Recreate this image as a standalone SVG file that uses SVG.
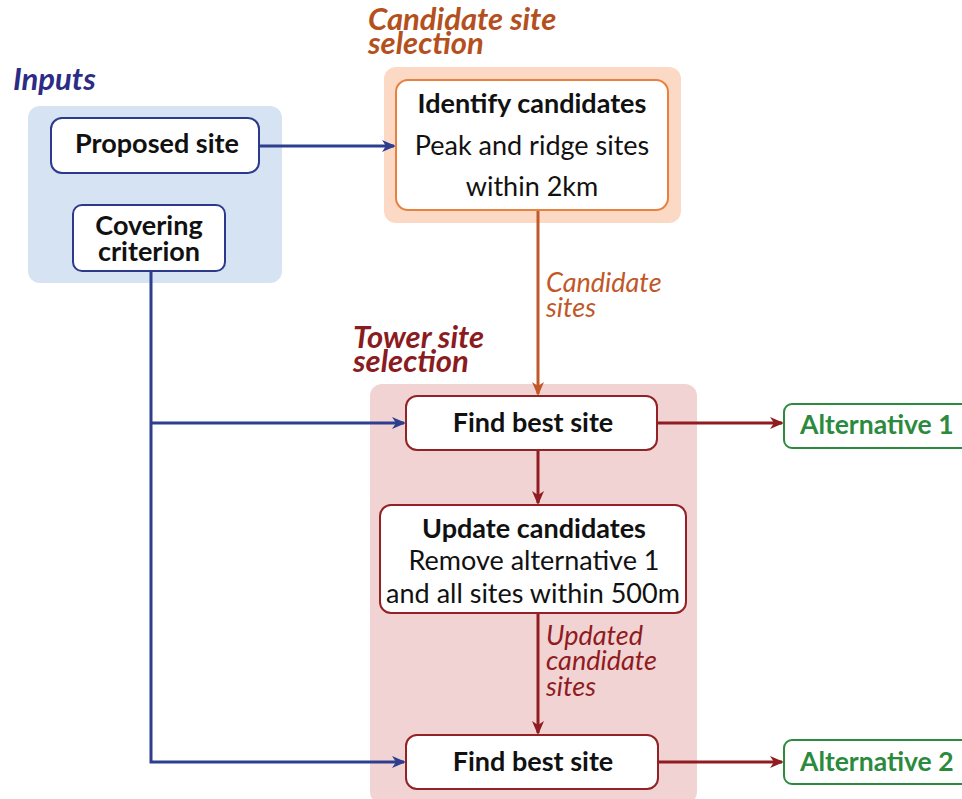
<svg xmlns="http://www.w3.org/2000/svg" width="962" height="799" viewBox="0 0 962 799">
<style>
text{font-family:Lato,"Open Sans","Liberation Sans",sans-serif;}
.b{font-weight:bold;font-size:27px;fill:#111;text-anchor:middle}
.r{font-size:27px;fill:#111;text-anchor:middle}
.t{font-weight:bold;font-style:italic;font-size:31px}
.l{font-style:italic;font-size:27px}
.g{font-weight:bold;font-size:26.5px;fill:#2b8a3e}
.nb{fill:#fff;stroke:#2d3a8c;stroke-width:2}
.no{fill:#fff;stroke:#e8803f;stroke-width:2}
.nr{fill:#fff;stroke:#922226;stroke-width:2}
.ng{fill:#fff;stroke:#2b8a3e;stroke-width:2}
.cb{fill:none;stroke:#2d3e8f;stroke-width:3}
.co{fill:none;stroke:#c0582a;stroke-width:3}
.cr{fill:none;stroke:#8f1c20;stroke-width:3}
</style>
<defs>
<marker id="ab" markerWidth="14" markerHeight="12" refX="12" refY="6" orient="auto" markerUnits="userSpaceOnUse"><path d="M0,0 L14,6 L0,12 L4,6 z" fill="#2d3e8f"/></marker>
<marker id="ao" markerWidth="14" markerHeight="12" refX="12" refY="6" orient="auto" markerUnits="userSpaceOnUse"><path d="M0,0 L14,6 L0,12 L4,6 z" fill="#c0582a"/></marker>
<marker id="ar" markerWidth="14" markerHeight="12" refX="12" refY="6" orient="auto" markerUnits="userSpaceOnUse"><path d="M0,0 L14,6 L0,12 L4,6 z" fill="#8f1c20"/></marker>
</defs>
<rect width="962" height="799" fill="#fff"/>
<g id="group-inputs">
<rect x="28" y="106" width="254" height="177" rx="12" fill="#d5e3f3"/>
<text class="t" x="13" y="90" fill="#2c2c85">Inputs</text>
</g>
<g id="group-candidate">
<rect x="384" y="67" width="297" height="156" rx="12" fill="#fcd9c4"/>
<text class="t" x="368" y="30" fill="#b4501e">Candidate site</text>
<text class="t" x="368" y="54" fill="#b4501e">selection</text>
</g>
<g id="group-tower">
<rect x="370" y="384" width="327" height="420" rx="12" fill="#f2d3d4"/>
<text class="t" x="353" y="348" fill="#8a1c1f">Tower site</text>
<text class="t" x="353" y="372" fill="#8a1c1f">selection</text>
</g>
<g id="connectors">
<line class="cb" x1="259" y1="146" x2="394" y2="146" marker-end="url(#ab)"/>
<polyline class="cb" points="151,271 151,762 404,762" marker-end="url(#ab)"/>
<line class="cb" x1="151" y1="423" x2="404" y2="423" marker-end="url(#ab)"/>
<line class="co" x1="538" y1="211" x2="538" y2="394" marker-end="url(#ao)"/>
<line class="cr" x1="538" y1="450" x2="538" y2="503" marker-end="url(#ar)"/>
<line class="cr" x1="538" y1="613" x2="538" y2="733" marker-end="url(#ar)"/>
<line class="cr" x1="657" y1="423" x2="782" y2="423" marker-end="url(#ar)"/>
<line class="cr" x1="658" y1="762" x2="782" y2="762" marker-end="url(#ar)"/>
<text class="l" x="546" y="292" fill="#c0582a">Candidate</text>
<text class="l" x="546" y="317" fill="#c0582a">sites</text>
<text class="l" x="546" y="645" fill="#8f1c20">Updated</text>
<text class="l" x="546" y="670" fill="#8f1c20">candidate</text>
<text class="l" x="546" y="696" fill="#8f1c20">sites</text>
</g>
<g id="proposed-site">
<rect class="nb" x="51" y="118" width="208" height="55" rx="11"/>
<text class="b" x="157" y="153">Proposed site</text>
</g>
<g id="covering-criterion">
<rect class="nb" x="73" y="205" width="152" height="66" rx="9"/>
<text class="b" x="149" y="235">Covering</text>
<text class="b" x="149" y="261">criterion</text>
</g>
<g id="identify-candidates">
<rect class="no" x="396" y="80" width="272" height="130" rx="12"/>
<text class="b" x="532" y="113">Identify candidates</text>
<text class="r" x="532" y="155">Peak and ridge sites</text>
<text class="r" x="532" y="196">within 2km</text>
</g>
<g id="find-best-site-1">
<rect class="nr" x="406" y="396" width="251" height="54" rx="11"/>
<text class="b" x="533" y="432">Find best site</text>
</g>
<g id="update-candidates">
<rect class="nr" x="380" y="505" width="306" height="108" rx="11"/>
<text class="b" x="534" y="538">Update candidates</text>
<text class="r" x="534" y="570">Remove alternative 1</text>
<text class="r" x="533" y="603">and all sites within 500m</text>
</g>
<g id="find-best-site-2">
<rect class="nr" x="406" y="735" width="252" height="54" rx="11"/>
<text class="b" x="533" y="771">Find best site</text>
</g>
<g id="alternative-1">
<rect class="ng" x="784" y="404" width="190" height="44" rx="8"/>
<text class="g" x="800" y="434">Alternative 1</text>
</g>
<g id="alternative-2">
<rect class="ng" x="784" y="740" width="190" height="44" rx="8"/>
<text class="g" x="800" y="771">Alternative 2</text>
</g>
</svg>
